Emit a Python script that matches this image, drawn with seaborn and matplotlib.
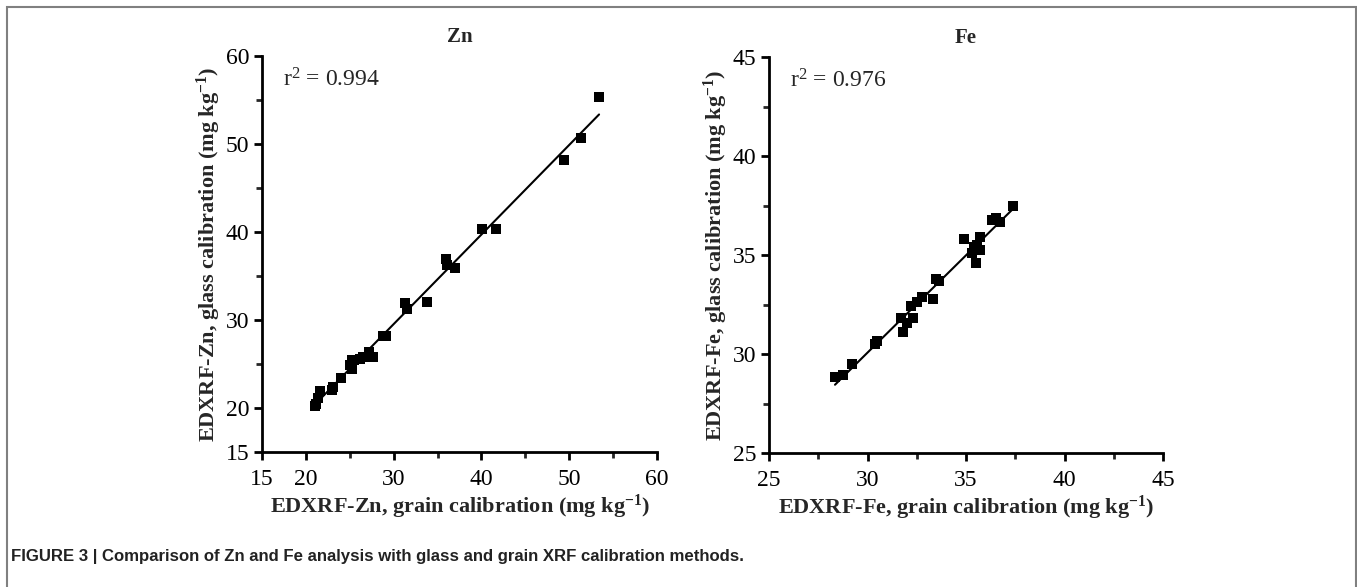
import numpy as np
import matplotlib
matplotlib.use("Agg")
import matplotlib.pyplot as plt
import seaborn as sns
from matplotlib.patches import Rectangle
from matplotlib.ticker import MultipleLocator

# Zn: grain calibration (x) vs glass calibration (y), mg/kg
zn_grain = [21.0, 21.1, 21.4, 21.6, 23.0, 23.1, 24.0, 25.0, 25.2, 25.3, 25.5,
            26.2, 26.5, 27.2, 27.7, 28.8, 29.1, 31.3, 31.5, 33.8, 36.0, 36.1,
            37.0, 40.1, 41.7, 49.4, 51.3, 53.4]
zn_glass = [20.2, 20.5, 21.1, 21.9, 22.0, 22.4, 23.4, 24.9, 24.4, 25.4, 25.5,
            25.6, 25.8, 26.4, 25.8, 28.2, 28.2, 31.9, 31.2, 32.1, 36.9, 36.2,
            35.9, 40.3, 40.3, 48.2, 50.7, 55.3]

# Fe: grain calibration (x) vs glass calibration (y), mg/kg
fe_grain = [28.35, 28.75, 29.2, 30.4, 30.5, 31.7, 31.8, 32.0, 32.2, 32.3,
            32.5, 32.75, 33.35, 33.5, 33.65, 34.9, 35.3, 35.4, 35.5, 35.55,
            35.7, 35.7, 36.3, 36.5, 36.75, 37.4]
fe_glass = [28.85, 28.95, 29.5, 30.5, 30.65, 31.8, 31.1, 31.55, 32.4, 31.8,
            32.65, 32.9, 32.8, 33.8, 33.7, 35.8, 35.1, 35.4, 34.6, 35.5,
            35.25, 35.9, 36.75, 36.85, 36.65, 37.5]

panels = [
    ("Zn", zn_grain, zn_glass, "0.994", (15, 60), [15, 20, 30, 40, 50, 60], 5),
    ("Fe", fe_grain, fe_glass, "0.976", (25, 45), [25, 30, 35, 40, 45], 2.5),
]

sns.set_style("white")
plt.rcParams["font.family"] = ["Liberation Serif", "DejaVu Serif"]
plt.rcParams["mathtext.fontset"] = "custom"
plt.rcParams["mathtext.rm"] = "Liberation Serif"
plt.rcParams["mathtext.bf"] = "Liberation Serif:bold"
plt.rcParams["mathtext.it"] = "Liberation Serif:italic"

W, H = 1357, 587
fig = plt.figure(figsize=(W / 100, H / 100), dpi=100)

# axes boxes in pixels: left, top, right, bottom
boxes = [(262, 56, 657, 452), (769, 57, 1163, 453)]

for (name, gx, gy, r2, lim, majors, minor), (l, t, r, b) in zip(panels, boxes):
    ax = fig.add_axes([l / W, (H - b) / H, (r - l) / W, (b - t) / H])
    sns.regplot(x=np.array(gx), y=np.array(gy), ax=ax, ci=None, marker="s",
                color="black",
                scatter_kws={"s": 62, "linewidths": 0, "alpha": 1},
                line_kws={"lw": 1.5})
    ax.set_xlim(*lim)
    ax.set_ylim(*lim)
    ax.set_xticks(majors)
    ax.set_yticks(majors)
    ax.xaxis.set_minor_locator(MultipleLocator(minor))
    ax.yaxis.set_minor_locator(MultipleLocator(minor))
    for s in ["top", "right"]:
        ax.spines[s].set_visible(False)
    for s in ["left", "bottom"]:
        ax.spines[s].set_linewidth(2)
        ax.spines[s].set_color("black")
    ax.tick_params(which="major", direction="out", length=6, width=2,
                   labelsize=17, colors="black", left=True, bottom=True)
    ax.tick_params(axis="x", which="major", pad=6)
    ax.tick_params(axis="y", which="major", pad=3)
    ax.tick_params(which="minor", direction="out", length=4, width=2,
                   left=True, bottom=True)
    ax.set_xlabel(f"EDXRF-{name}, grain calibration " + r"(mg kg$^{\mathbf{-1}}$)",
                  fontsize=16, fontweight="bold", labelpad=2)
    ax.set_ylabel(f"EDXRF-{name}, glass calibration " + r"(mg kg$^{\mathbf{-1}}$)",
                  fontsize=16, fontweight="bold", labelpad=2)
    ax.set_title(name, fontsize=15, fontweight="bold", pad=10)
    ax.text(0.053, 0.94, r"r$^2$ = " + r2, transform=ax.transAxes,
            fontsize=17, va="center", ha="left")

# outer frame
fig.patches.append(Rectangle((7 / W, -0.05), (1349 / W), (H - 7) / H + 0.05,
                             transform=fig.transFigure, fill=False,
                             edgecolor="#808080", lw=1.5))

fig.text(11 / W, (H - 557) / H,
         "FIGURE 3 | Comparison of Zn and Fe analysis with glass and grain XRF calibration methods.",
         fontsize=12.1, fontweight="bold", family=["Liberation Sans Narrow", "Liberation Sans"],
         va="center", ha="left", color="#222222")

fig.savefig("out.png", dpi=100)
